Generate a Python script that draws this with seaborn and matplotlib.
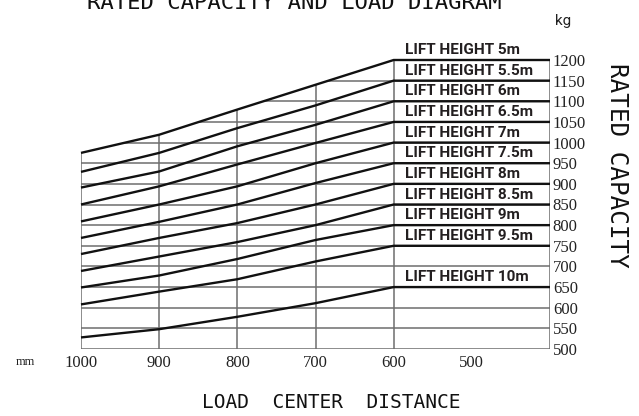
import matplotlib
matplotlib.use("Agg")
import matplotlib.pyplot as plt
from matplotlib.patches import Polygon
import pandas as pd
import seaborn as sns

# Load centre distance (mm); capacity stays constant from 600 mm down to 400 mm
load_center = [1000, 900, 800, 700, 600, 400]

lift_heights = ["5m", "5.5m", "6m", "6.5m", "7m", "7.5m",
                "8m", "8.5m", "9m", "9.5m", "10m"]

# Rated capacity (kg) for each lift height along load_center
cap_5m = [975, 1019, 1080, 1140, 1200, 1200]
cap_5_5m = [929, 975, 1035, 1090, 1150, 1150]
cap_6m = [891, 930, 991, 1043, 1100, 1100]
cap_6_5m = [850, 894, 947, 999, 1050, 1050]
cap_7m = [809, 850, 894, 950, 1000, 1000]
cap_7_5m = [769, 808, 850, 902, 950, 950]
cap_8m = [730, 769, 805, 850, 900, 900]
cap_8_5m = [689, 724, 759, 800, 850, 850]
cap_9m = [649, 678, 718, 764, 800, 800]
cap_9_5m = [608, 639, 669, 712, 750, 750]
cap_10m = [528, 548, 578, 611, 650, 650]

capacities = [cap_5m, cap_5_5m, cap_6m, cap_6_5m, cap_7m, cap_7_5m,
              cap_8m, cap_8_5m, cap_9m, cap_9_5m, cap_10m]

x_ticks = [1000, 900, 800, 700, 600, 500]
y_ticks = list(range(500, 1201, 50))
grid_x = [1000, 900, 800, 700, 600, 400]

rows = []
for h, caps in zip(lift_heights, capacities):
    for d, c in zip(load_center, caps):
        rows.append({"height": h, "distance": d, "capacity": c})
df = pd.DataFrame(rows)

sns.set_style("white")
plt.rcParams["font.family"] = ["DejaVu Sans"]

W, H = 639, 416
fig = plt.figure(figsize=(W / 100, H / 100), dpi=100)
fig.patch.set_facecolor("white")
ax = fig.add_axes([81 / W, 1 - 349 / H, (550 - 81) / W, (349 - 60) / H])
ax.set_xlim(1000, 400)
ax.set_ylim(500, 1200)
for s in ax.spines.values():
    s.set_visible(False)
ax.patch.set_visible(False)

# Grid area lies beneath the highest capacity curve
verts = [(1004, 495), (396, 495), (396, 1200)]
verts += [(d, c) for d, c in zip(load_center[-2::-1], cap_5m[-2::-1])]
verts += [(1004, cap_5m[0])]
clip = Polygon(verts, closed=True, transform=ax.transData,
               facecolor="none", edgecolor="none")
ax.add_patch(clip)

grid_kw = dict(color="#6e6e6e", lw=1.1, zorder=1)
grid_lines = []
for y in y_ticks:
    grid_lines.append(ax.axhline(y, **grid_kw))
for x in grid_x:
    grid_lines.append(ax.axvline(x, **grid_kw))
for ln in grid_lines:
    ln.set_clip_on(True)
    ln.set_clip_path(clip)

n_before = len(ax.lines)
sns.lineplot(data=df, x="distance", y="capacity", hue="height",
             hue_order=lift_heights, palette=["#111111"] * len(lift_heights),
             estimator=None, legend=False, linewidth=1.7, ax=ax, zorder=3)
for ln in ax.lines[n_before:]:
    ln.set_clip_on(False)
    ln.set_solid_capstyle("butt")
    ln.set_solid_joinstyle("round")

# Lift height labels above each constant-capacity segment
for h, caps in zip(lift_heights, capacities):
    ax.text(586, caps[-1] + 24, f"LIFT HEIGHT {h}", ha="left", va="center",
            fontsize=11, fontweight="bold", family=["Roboto", "DejaVu Sans"],
            color="#231f20", clip_on=False, zorder=4)

serif = ["Liberation Serif", "DejaVu Serif"]
ax.set_xticks(x_ticks)
ax.set_xticklabels([str(v) for v in x_ticks], fontfamily=serif, fontsize=12,
                   color="#222222")
ax.tick_params(axis="x", length=0, pad=4)
ax.yaxis.tick_right()
ax.set_yticks(y_ticks)
ax.set_yticklabels([str(v) for v in y_ticks], fontfamily=serif, fontsize=12,
                   color="#222222")
ax.tick_params(axis="y", length=0, pad=2)
ax.set_xlabel("")
ax.set_ylabel("")

mono = ["DejaVu Sans Mono"]
fig.text(294 / W, 1 - 9 / H, "RATED CAPACITY AND LOAD DIAGRAM", ha="center",
         va="baseline", fontsize=16, family=mono, color="#111111")
fig.text(331 / W, 1 - 403 / H, "LOAD  CENTER  DISTANCE", ha="center",
         va="center", fontsize=14, family=mono, color="#111111")
fig.text(617 / W, 1 - 165 / H, "RATED CAPACITY", ha="center", va="center",
         rotation=-90, fontsize=17.5, family=mono, color="#111111")
fig.text(563 / W, 1 - 25 / H, "kg", ha="center", va="baseline",
         fontsize=11, family=["Roboto", "DejaVu Sans"], color="#222222")
fig.text(25 / W, 1 - 362 / H, "mm", ha="center", va="center",
         fontsize=9, family=serif, color="#222222")

fig.savefig("out.png", dpi=100, facecolor="white")
